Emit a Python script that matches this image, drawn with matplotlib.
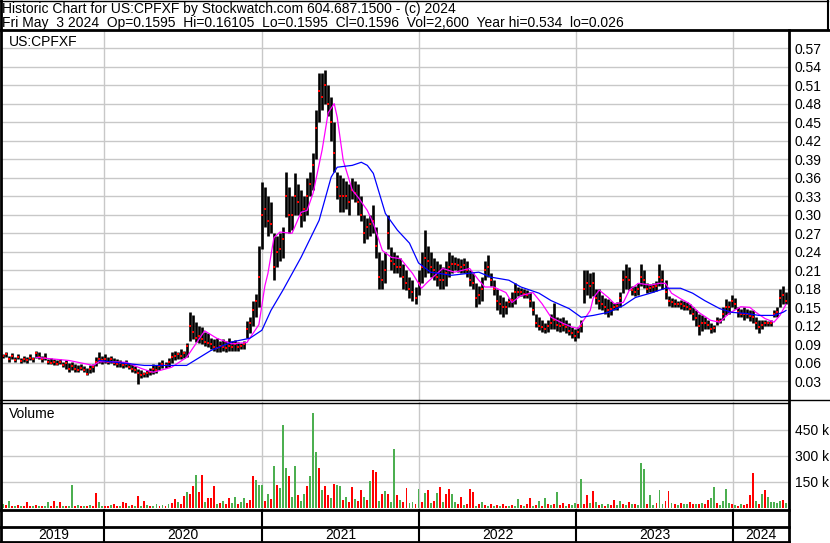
import matplotlib
matplotlib.use("Agg")
import matplotlib.pyplot as plt
from matplotlib.lines import Line2D
import pandas as pd

plt.rcParams["font.family"] = ["Liberation Sans", "DejaVu Sans"]

# weekly bars, first week ending 2019-05-03, last 2024-05-03
first_week = "2019-05-03"

high = [
    0.078, 0.075, 0.078, 0.072, 0.076, 0.070, 0.074, 0.068, 0.072, 0.070,
    0.074, 0.070, 0.080, 0.078, 0.072, 0.076, 0.066, 0.068, 0.066, 0.064,
    0.066, 0.062, 0.064, 0.060, 0.062, 0.058, 0.056, 0.058, 0.055, 0.052,
    0.056, 0.058, 0.070, 0.078, 0.072, 0.074, 0.070, 0.072, 0.068, 0.066,
    0.064, 0.062, 0.064, 0.060, 0.058, 0.055, 0.050, 0.048, 0.046, 0.048,
    0.052, 0.058, 0.056, 0.062, 0.064, 0.062, 0.068, 0.078, 0.080, 0.078,
    0.082, 0.080, 0.092, 0.142, 0.138, 0.126, 0.120, 0.118, 0.110, 0.108,
    0.100, 0.098, 0.100, 0.096, 0.098, 0.096, 0.100, 0.095, 0.097, 0.094,
    0.092, 0.095, 0.128, 0.135, 0.160, 0.172, 0.250, 0.353, 0.345, 0.330,
    0.320, 0.270, 0.265, 0.270, 0.280, 0.369, 0.345, 0.330, 0.367, 0.350,
    0.340, 0.330, 0.360, 0.370, 0.400, 0.470, 0.530, 0.530, 0.534, 0.510,
    0.490, 0.450, 0.370, 0.365, 0.360, 0.355, 0.350, 0.360, 0.355, 0.350,
    0.330, 0.300, 0.295, 0.300, 0.315, 0.280, 0.240, 0.226, 0.240, 0.300,
    0.247, 0.240, 0.235, 0.230, 0.220, 0.210, 0.200, 0.195, 0.183, 0.210,
    0.240, 0.275, 0.250, 0.240, 0.230, 0.225, 0.220, 0.215, 0.225, 0.240,
    0.235, 0.232, 0.230, 0.228, 0.230, 0.225, 0.210, 0.205, 0.190, 0.185,
    0.200, 0.225, 0.235, 0.205, 0.195, 0.180, 0.170, 0.167, 0.160, 0.165,
    0.175, 0.190, 0.183, 0.182, 0.180, 0.178, 0.175, 0.160, 0.140, 0.135,
    0.130, 0.125, 0.130, 0.140, 0.157, 0.135, 0.132, 0.135, 0.130, 0.125,
    0.118, 0.115, 0.118, 0.130, 0.210, 0.210, 0.205, 0.208, 0.180, 0.180,
    0.170, 0.165, 0.163, 0.160, 0.157, 0.158, 0.175, 0.210, 0.220, 0.215,
    0.185, 0.185, 0.190, 0.220, 0.210, 0.190, 0.188, 0.190, 0.192, 0.220,
    0.210, 0.195, 0.168, 0.165, 0.163, 0.160, 0.162, 0.160, 0.158, 0.155,
    0.150, 0.145, 0.140, 0.138, 0.135, 0.130, 0.125, 0.122, 0.135, 0.132,
    0.150, 0.163, 0.160, 0.170, 0.165, 0.150, 0.148, 0.150, 0.148, 0.145,
    0.145, 0.135, 0.130, 0.130, 0.130, 0.128, 0.130, 0.145, 0.150, 0.180,
    0.185, 0.175,
]

low = [
    0.070, 0.068, 0.070, 0.062, 0.066, 0.062, 0.066, 0.060, 0.062, 0.060,
    0.064, 0.062, 0.068, 0.066, 0.062, 0.064, 0.058, 0.058, 0.056, 0.056,
    0.058, 0.054, 0.050, 0.046, 0.048, 0.046, 0.046, 0.048, 0.045, 0.040,
    0.044, 0.046, 0.055, 0.060, 0.058, 0.060, 0.058, 0.060, 0.056, 0.054,
    0.054, 0.052, 0.054, 0.050, 0.046, 0.044, 0.026, 0.036, 0.038, 0.038,
    0.040, 0.042, 0.044, 0.048, 0.052, 0.052, 0.054, 0.060, 0.064, 0.066,
    0.066, 0.068, 0.070, 0.095, 0.098, 0.094, 0.092, 0.090, 0.088, 0.086,
    0.082, 0.080, 0.078, 0.078, 0.080, 0.078, 0.080, 0.079, 0.080, 0.080,
    0.082, 0.082, 0.100, 0.108, 0.120, 0.135, 0.150, 0.245, 0.280, 0.265,
    0.270, 0.195, 0.215, 0.225, 0.230, 0.296, 0.270, 0.275, 0.300, 0.300,
    0.280, 0.290, 0.300, 0.330, 0.340, 0.390, 0.450, 0.470, 0.480, 0.460,
    0.420, 0.370, 0.325, 0.305, 0.305, 0.310, 0.300, 0.325, 0.320, 0.300,
    0.290, 0.255, 0.260, 0.265, 0.270, 0.230, 0.180, 0.180, 0.190, 0.245,
    0.210, 0.205, 0.205, 0.200, 0.180, 0.178, 0.165, 0.160, 0.155, 0.170,
    0.190, 0.200, 0.205, 0.200, 0.195, 0.185, 0.180, 0.180, 0.185, 0.200,
    0.205, 0.210, 0.208, 0.205, 0.205, 0.200, 0.185, 0.180, 0.150, 0.155,
    0.160, 0.195, 0.200, 0.185, 0.170, 0.145, 0.140, 0.135, 0.140, 0.150,
    0.150, 0.155, 0.168, 0.168, 0.165, 0.165, 0.150, 0.138, 0.118, 0.113,
    0.110, 0.108, 0.110, 0.115, 0.115, 0.112, 0.110, 0.112, 0.108, 0.105,
    0.100, 0.095, 0.100, 0.110, 0.157, 0.170, 0.165, 0.168, 0.155, 0.148,
    0.145, 0.140, 0.135, 0.138, 0.145, 0.145, 0.150, 0.173, 0.180, 0.178,
    0.170, 0.168, 0.170, 0.185, 0.182, 0.173, 0.175, 0.175, 0.176, 0.185,
    0.180, 0.163, 0.152, 0.150, 0.150, 0.150, 0.148, 0.145, 0.145, 0.140,
    0.130, 0.120, 0.105, 0.112, 0.115, 0.115, 0.108, 0.110, 0.122, 0.125,
    0.130, 0.137, 0.140, 0.150, 0.148, 0.135, 0.135, 0.130, 0.132, 0.128,
    0.125, 0.115, 0.108, 0.115, 0.120, 0.120, 0.120, 0.135, 0.135, 0.150,
    0.155, 0.155,
]

close = [
    0.074, 0.071, 0.075, 0.066, 0.072, 0.065, 0.070, 0.063, 0.066, 0.064,
    0.068, 0.066, 0.076, 0.070, 0.066, 0.068, 0.062, 0.060, 0.062, 0.058,
    0.062, 0.056, 0.060, 0.050, 0.055, 0.050, 0.049, 0.052, 0.048, 0.042,
    0.050, 0.054, 0.062, 0.066, 0.064, 0.066, 0.062, 0.066, 0.060, 0.058,
    0.060, 0.056, 0.058, 0.054, 0.050, 0.048, 0.044, 0.040, 0.042, 0.044,
    0.046, 0.050, 0.048, 0.055, 0.058, 0.056, 0.062, 0.070, 0.072, 0.074,
    0.072, 0.076, 0.088, 0.120, 0.110, 0.100, 0.104, 0.098, 0.094, 0.092,
    0.090, 0.086, 0.084, 0.088, 0.086, 0.084, 0.088, 0.086, 0.090, 0.086,
    0.088, 0.090, 0.115, 0.125, 0.145, 0.160, 0.200, 0.300, 0.310, 0.290,
    0.285, 0.215, 0.240, 0.245, 0.260, 0.330, 0.300, 0.300, 0.330, 0.320,
    0.300, 0.310, 0.330, 0.350, 0.380, 0.440, 0.500, 0.490, 0.510, 0.480,
    0.450, 0.400, 0.345, 0.330, 0.330, 0.330, 0.320, 0.340, 0.335, 0.320,
    0.300, 0.270, 0.280, 0.285, 0.290, 0.250, 0.200, 0.195, 0.210, 0.270,
    0.225, 0.220, 0.215, 0.215, 0.200, 0.190, 0.180, 0.175, 0.165, 0.190,
    0.215, 0.230, 0.225, 0.215, 0.210, 0.200, 0.195, 0.195, 0.205, 0.215,
    0.220, 0.220, 0.218, 0.215, 0.218, 0.210, 0.195, 0.190, 0.165, 0.170,
    0.180, 0.210, 0.215, 0.195, 0.180, 0.160, 0.155, 0.150, 0.150, 0.158,
    0.162, 0.175, 0.175, 0.175, 0.172, 0.170, 0.160, 0.145, 0.125, 0.120,
    0.118, 0.115, 0.120, 0.125, 0.130, 0.122, 0.120, 0.122, 0.118, 0.112,
    0.108, 0.104, 0.110, 0.120, 0.180, 0.190, 0.185, 0.190, 0.165, 0.160,
    0.155, 0.150, 0.145, 0.148, 0.150, 0.152, 0.165, 0.195, 0.200, 0.195,
    0.178, 0.175, 0.180, 0.200, 0.195, 0.180, 0.182, 0.183, 0.185, 0.200,
    0.195, 0.175, 0.160, 0.158, 0.156, 0.155, 0.155, 0.152, 0.150, 0.148,
    0.140, 0.132, 0.120, 0.125, 0.125, 0.122, 0.115, 0.116, 0.128, 0.128,
    0.140, 0.150, 0.150, 0.160, 0.155, 0.142, 0.140, 0.140, 0.140, 0.136,
    0.135, 0.125, 0.118, 0.122, 0.125, 0.124, 0.125, 0.140, 0.142, 0.165,
    0.170, 0.1596,
]

# thousands of shares, largest session of each week
volume_k = [
    12, 20, 15, 39, 10, 8, 14, 9, 12, 30,
    10, 8, 14, 12, 7, 10, 30, 9, 39, 12,
    35, 10, 8, 12, 129, 10, 14, 9, 12, 8,
    14, 10, 83, 32, 10, 12, 8, 14, 20, 10,
    12, 30, 27, 10, 14, 9, 67, 12, 39, 14,
    10, 12, 23, 9, 14, 12, 18, 25, 49, 32,
    20, 67, 92, 79, 124, 187, 88, 189, 30, 53,
    56, 124, 20, 26, 39, 18, 53, 25, 62, 22,
    32, 53, 28, 44, 182, 159, 129, 129, 40, 79,
    50, 240, 132, 113, 480, 226, 184, 60, 240, 70,
    39, 81, 127, 180, 547, 321, 229, 102, 123, 70,
    55, 138, 132, 127, 44, 60, 35, 120, 50, 40,
    102, 60, 45, 155, 215, 205, 40, 79, 95, 81,
    35, 339, 74, 45, 30, 115, 25, 35, 20, 106,
    30, 85, 99, 25, 40, 85, 120, 30, 79, 106,
    78, 35, 20, 62, 15, 20, 106, 88, 12, 18,
    32, 14, 10, 18, 12, 15, 10, 21, 12, 10,
    15, 12, 49, 14, 12, 18, 53, 10, 14, 39,
    12, 58, 20, 14, 18, 92, 15, 26, 12, 18,
    14, 26, 20, 166, 18, 70, 25, 97, 32, 15,
    20, 12, 18, 14, 44, 15, 39, 20, 15, 30,
    18, 22, 16, 256, 221, 20, 71, 15, 26, 102,
    18, 39, 97, 26, 20, 15, 26, 20, 18, 32,
    18, 22, 20, 25, 18, 44, 53, 120, 26, 15,
    39, 109, 25, 18, 15, 12, 18, 14, 20, 71,
    198, 39, 20, 79, 100, 62, 30, 35, 28, 40,
    44, 25,
]

# g = up, r = down
volume_dir = (
    "ggrgrgrgrr" "rgrgrggrrg" "rgrggrgrgr" "grrggrrgrr" "grrgrgrgrg"
    "rggrgrgrrg" "rrgrrgrrgr" "rrgrgrrggr" "ggrrrgggrg" "rgrgggrggr"
    "ggrgggrgrr" "grggrgrrgr" "rgrgrrgrgr" "ggrgrrggrg" "rgrgrgrgrr"
    "ggrrgrrrgr" "grgrgrgrrg" "rggrgrrgrg" "rgrgrgrrgr" "ggrgrrgrgr"
    "grgrrggrgr" "grgggrggrg" "grrgrgrggr" "rgrgrrggrg" "gggrgrgrrr"
    "rgrgrggggg" "rg"
)

# moving averages, keyed by week number
fast_ma_week = [12, 23, 31, 33, 37, 42, 47, 50, 51, 57, 62, 68, 72, 77, 82, 86,
                88, 89, 91, 93, 97, 100, 102, 104, 107, 109, 111, 112, 114, 117,
                119, 122, 124, 127, 130, 133, 137, 140, 142, 147, 151, 156, 159,
                161, 164, 168, 170, 173, 177, 180, 183, 187, 190, 192, 196, 197,
                199, 202, 204, 207, 209, 212, 216, 219, 221, 223, 226, 229, 232,
                236, 239, 242, 246, 249, 251, 254, 257, 259, 261]
fast_ma = [0.069, 0.064, 0.056, 0.062, 0.062, 0.061, 0.051, 0.046, 0.045, 0.053,
           0.069, 0.112, 0.100, 0.091, 0.093, 0.122, 0.185, 0.205, 0.263, 0.272,
           0.270, 0.304, 0.307, 0.335, 0.405, 0.465, 0.480, 0.458, 0.388, 0.340,
           0.328, 0.307, 0.286, 0.242, 0.231, 0.229, 0.205, 0.181, 0.191, 0.213,
           0.207, 0.213, 0.194, 0.183, 0.183, 0.174, 0.158, 0.169, 0.174, 0.156,
           0.134, 0.124, 0.118, 0.116, 0.145, 0.165, 0.178, 0.166, 0.156, 0.158,
           0.178, 0.189, 0.186, 0.189, 0.189, 0.173, 0.164, 0.156, 0.142, 0.129,
           0.126, 0.140, 0.151, 0.150, 0.142, 0.132, 0.126, 0.137, 0.155]

slow_ma_week = [33, 48, 62, 70, 77, 83, 87, 90, 94, 100, 106, 110, 112, 117, 120,
                122, 124, 128, 132, 136, 139, 143, 150, 159, 163, 169, 173, 179,
                183, 189, 193, 197, 202, 207, 211, 216, 221, 226, 230, 234, 239,
                243, 248, 252, 257, 260, 261]
slow_ma = [0.064, 0.056, 0.056, 0.080, 0.094, 0.100, 0.113, 0.145, 0.178, 0.231,
           0.291, 0.361, 0.377, 0.380, 0.385, 0.380, 0.367, 0.302, 0.275, 0.254,
           0.222, 0.207, 0.202, 0.207, 0.199, 0.194, 0.183, 0.173, 0.161, 0.148,
           0.134, 0.137, 0.142, 0.153, 0.166, 0.173, 0.181, 0.181, 0.173, 0.161,
           0.148, 0.142, 0.140, 0.137, 0.137, 0.142, 0.145]

price_ticks = [0.03, 0.06, 0.09, 0.12, 0.15, 0.18, 0.21, 0.24, 0.27, 0.30,
               0.33, 0.36, 0.39, 0.42, 0.45, 0.48, 0.51, 0.54, 0.57]
volume_ticks = [150, 300, 450]
volume_tick_labels = ["150 k", "300 k", "450 k"]
year_starts = ["2020-01-01", "2021-01-01", "2022-01-01", "2023-01-01", "2024-01-01"]
year_labels = ["2019", "2020", "2021", "2022", "2023", "2024"]

title_lines = [
    "Historic Chart for US:CPFXF by Stockwatch.com 604.687.1500 - (c) 2024",
    "Fri May  3 2024  Op=0.1595  Hi=0.16105  Lo=0.1595  Cl=0.1596  "
    "Vol=2,600  Year hi=0.534  lo=0.026",
]

assert len(high) == len(low) == len(close) == len(volume_k) == len(volume_dir)

W, H = 830, 543
GRID = "#c8c8c8"
GREEN = "#4caf50"
FS = 10

dates = pd.date_range(first_week, periods=len(high), freq="7D")
x_left = pd.Timestamp("2019-05-08")
x_right = pd.Timestamp("2024-05-10")
years = pd.to_datetime(year_starts)


def fx(px):
    return px / W


def fy(py):
    return 1 - py / H


def box(py_top, py_bottom):
    return [fx(2), fy(py_bottom), fx(789) - fx(2), fy(py_top) - fy(py_bottom)]


fig = plt.figure(figsize=(W / 100, H / 100), dpi=100)

# price panel
ax = fig.add_axes(box(31, 400))
ax.vlines(dates, low, high, color="black", lw=1.9, zorder=3)
ax.plot(dates, close, "s", color="red", ms=1.6, mew=0, zorder=4)
ax.plot(dates[fast_ma_week], fast_ma, color="magenta", lw=0.9, zorder=5)
ax.plot(dates[slow_ma_week], slow_ma, color="blue", lw=0.9, zorder=5)
ax.set_xlim(x_left, x_right)
ax.set_ylim(0, 0.5976)
ax.set_yticks(price_ticks)
ax.set_yticklabels([f"{t:.2f}" for t in price_ticks])
ax.yaxis.tick_right()
ax.tick_params(axis="y", length=0, pad=4, labelsize=FS)
ax.set_xticks([])
ax.grid(axis="y", color=GRID, lw=1.0)
for y in years:
    ax.axvline(y, color=GRID, lw=1.0, zorder=1)
for s in ax.spines.values():
    s.set_visible(False)
ax.set_axisbelow(True)
fig.text(fx(9), fy(46), "US:CPFXF", fontsize=FS, va="baseline", ha="left")

# volume panel
vax = fig.add_axes(box(402, 509))
vcolors = [GREEN if c == "g" else "red" for c in volume_dir]
vax.bar(dates, volume_k, width=4.5, color=vcolors, linewidth=0, zorder=3)
vax.set_xlim(x_left, x_right)
vax.set_ylim(-8, 610)
vax.set_yticks(volume_ticks)
vax.set_yticklabels(volume_tick_labels)
vax.yaxis.tick_right()
vax.tick_params(axis="y", length=0, pad=4, labelsize=FS)
vax.set_xticks([])
vax.grid(axis="y", color=GRID, lw=1.0)
for y in years:
    vax.axvline(y, color=GRID, lw=1.0, zorder=1)
for s in vax.spines.values():
    s.set_visible(False)
vax.set_axisbelow(True)
fig.text(fx(9), fy(417.5), "Volume", fontsize=FS, va="baseline", ha="left")

# year band
bax = fig.add_axes(box(509, 542))
bax.set_xlim(x_left, x_right)
bax.set_ylim(0, 1)
bax.axis("off")
bounds = [x_left] + list(years) + [x_right]
for y in years:
    bax.axvline(y, color="black", lw=1.5)
for lab, a, b in zip(year_labels, bounds[:-1], bounds[1:]):
    bax.text(a + (b - a) / 2, 0.22, lab, fontsize=FS, ha="center", va="center")


# frame lines in pixel positions
def hline(py, x0, x1, lw):
    fig.add_artist(Line2D([fx(x0), fx(x1)], [fy(py), fy(py)], color="black", lw=lw))


def vline(px, y0, y1, lw):
    fig.add_artist(Line2D([fx(px), fx(px)], [fy(y0), fy(y1)], color="black", lw=lw))


hline(0.5, 0, 828, 1.0)
hline(30, 0, 830, 2.0)
hline(400, 0, 830, 1.0)
hline(402.5, 0, 789, 1.0)
hline(509.5, 0, 789, 2.0)
hline(527, 0, 789, 2.0)
hline(541.5, 0, 789, 2.0)
vline(1, 0, 543, 2.0)
vline(789, 30, 543, 2.0)
vline(828, 0, 30, 1.5)

fig.text(fx(2), fy(13.5), title_lines[0], fontsize=FS, va="baseline", ha="left")
fig.text(fx(2), fy(26.5), title_lines[1], fontsize=FS, va="baseline", ha="left")

fig.savefig("out.png", dpi=100)
